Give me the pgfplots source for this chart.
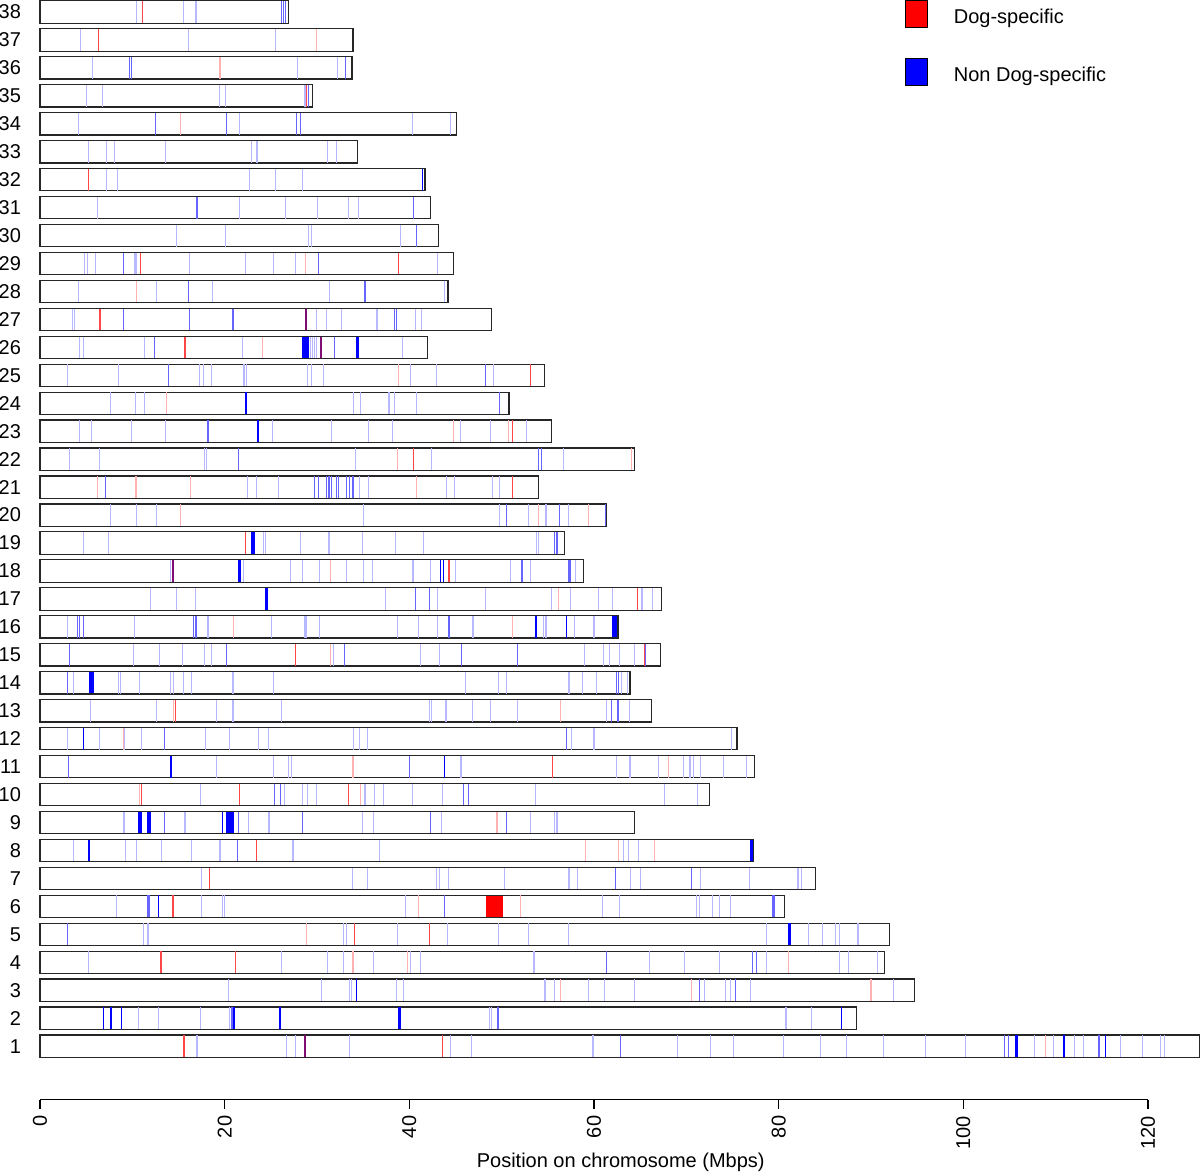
\documentclass[border=0pt]{standalone}
\usepackage{fontspec}
\setmainfont{Liberation Sans}
\usepackage{pgfplots}
\pgfplotsset{compat=1.18}
\definecolor{pp}{rgb}{0.5,0.05,0.45}
\pgfplotsset{
 seg/.style={only marks, mark=|, mark size=5.45pt},
 fb/.style={seg, color=blue!28, line width=0.55pt, mark options={draw=blue!28, line width=0.55pt}},
 mb/.style={seg, color=blue!60, line width=0.55pt, mark options={draw=blue!60, line width=0.55pt}},
 db/.style={seg, color=blue, line width=0.65pt, mark options={draw=blue, line width=0.65pt}},
 dbt/.style={seg, color=blue, line width=1.25pt, mark options={draw=blue, line width=1.25pt}},
 fr/.style={seg, color=red!30, line width=0.55pt, mark options={draw=red!30, line width=0.55pt}},
 rm/.style={seg, color=red!72, line width=0.55pt, mark options={draw=red!72, line width=0.55pt}},
 ppl/.style={seg, color=pp, line width=0.9pt, mark options={draw=pp, line width=0.9pt}},
 blk/.style={draw=none, fill=blue, mark=none},
}
\begin{document}
\begin{tikzpicture}
\begin{axis}[
 x=4.6165pt, y=13.975pt,
 xmin=0, xmax=125.8, ymin=-0.92, ymax=38.43,
 clip=false,
 axis x line*=bottom, axis y line*=left,
 x axis line style={draw=none}, y axis line style={draw=none},
 xtick={0,20,...,120}, ytick={1,...,38},
 tick align=outside, major tick length=4.5pt,
 xtick style={black, line width=0.6pt}, ytick style={draw=none},
 /pgf/number format/assume math mode=true,
 tick label style={font=\fontsize{10}{12}\selectfont},
 xticklabel style={rotate=90, anchor=east},
 yticklabel style={anchor=east, xshift=-1.5pt},
 xlabel={Position on chromosome (Mbps)},
 xlabel style={font=\fontsize{10}{12}\selectfont, at={(0.5,-0.0572)}, anchor=center},
 legend style={at={(0.7448,1.0)}, anchor=north west, draw=none, fill=none,
   row sep=13.5pt, inner sep=0pt, font=\fontsize{10}{12}\selectfont},
 legend cell align=left,
]
\addlegendimage{legend image code/.code={\draw[black, line width=0.4pt, fill=red] (0pt,-4.9pt) rectangle (11pt,8.6pt); \path[draw=none] (0pt,0pt) -- (22pt,0pt);}}
\addlegendentry{Dog-specific}
\addlegendimage{legend image code/.code={\draw[black, line width=0.4pt, fill=blue] (0pt,-4.9pt) rectangle (11pt,8.6pt); \path[draw=none] (0pt,0pt) -- (22pt,0pt);}}
\addlegendentry{Non Dog-specific}

% faint blue
\addplot[fb] coordinates {
(10.5,38)(15.5,38)(16.9,38)
(4.4,37)(16.1,37)(25.5,37)
(5.7,36)(27.9,36)(32.2,36)
(5.05,35)(6.75,35)(19.4,35)(20.1,35)(28.7,35)
(4.2,34)(21.6,34)(40.3,34)(44.5,34)
(5.3,33)(7.2,33)(8.1,33)(13.6,33)(22.9,33)(23.5,33)(31.1,33)(32.1,33)
(7.2,32)(8.4,32)(22.7,32)(25.5,32)(28.4,32)
(6.2,31)(21.6,31)(26.6,31)(30.1,31)(33.4,31)(34.5,31)
(14.8,30)(20.1,30)(29.1,30)(29.4,30)(39.0,30)
(4.8,29)(5.1,29)(6.0,29)(10.2,29)(10.4,29)(16.2,29)(22.3,29)(25.3,29)(27.7,29)(43.1,29)
(4.2,28)(12.6,28)(18.7,28)(31.4,28)(43.8,28)
(3.5,27)(3.7,27)(29.9,27)(31.0,27)(32.7,27)(36.5,27)(40.7,27)(41.3,27)
(4.3,26)(4.7,26)(11.3,26)(21.9,26)(29.3,26)(29.5,26)(29.7,26)(29.9,26)(39.3,26)
(3.0,25)(8.5,25)(17.3,25)(17.7,25)(18.6,25)(22.1,25)(22.4,25)(29.0,25)(29.4,25)(30.7,25)(40.1,25)(42.9,25)(49.1,25)
(7.6,24)(10.3,24)(11.3,24)(34.0,24)(34.7,24)(37.8,24)(38.4,24)(40.8,24)
(4.3,23)(5.6,23)(9.9,23)(13.6,23)(25.2,23)(31.6,23)(35.6,23)(38.2,23)(45.5,23)(48.8,23)(52.7,23)
(3.2,22)(6.4,22)(17.8,22)(18.0,22)(34.2,22)(42.4,22)(56.7,22)
(22.5,21)(23.4,21)(25.8,21)(34.6,21)(35.6,21)(44.0,21)(44.9,21)(49.0,21)(49.8,21)
(7.6,20)(10.5,20)(12.6,20)(35.0,20)(49.8,20)(52.9,20)(54.8,20)(57.2,20)
(4.7,19)(7.4,19)(24.2,19)(24.4,19)(28.2,19)(31.3,19)(34.9,19)(38.5,19)(41.5,19)(53.8,19)(54.0,19)
(14.1,18)(22.0,18)(27.1,18)(28.4,18)(30.3,18)(33.2,18)(35.0,18)(36.0,18)(40.4,18)(42.3,18)(45.0,18)(51.0,18)(53.1,18)(58.0,18)
(12.0,17)(14.8,17)(16.8,17)(37.4,17)(43.1,17)(48.3,17)(55.4,17)(57.5,17)(60.5,17)(62.0,17)(65.2,17)(66.3,17)
(3.0,16)(10.2,16)(18.2,16)(25.1,16)(28.7,16)(28.9,16)(30.3,16)(38.7,16)(41.0,16)(43.1,16)(46.9,16)(54.5,16)(54.8,16)(57.9,16)(60.0,16)
(10.1,15)(12.9,15)(15.4,15)(17.8,15)(18.6,15)(31.8,15)(41.2,15)(43.3,15)(59.0,15)(61.0,15)(61.7,15)(62.8,15)(64.4,15)
(3.6,14)(8.5,14)(8.7,14)(10.8,14)(14.1,14)(14.5,14)(15.5,14)(16.4,14)(20.9,14)(25.3,14)(46.1,14)(49.7,14)(50.5,14)(57.3,14)(58.8,14)(60.3,14)(63.0,14)(63.6,14)
(5.5,13)(12.6,13)(19.1,13)(20.9,13)(26.2,13)(42.2,13)(42.4,13)(43.9,13)(44.0,13)(46.8,13)(48.8,13)(51.7,13)(61.4,13)(63.8,13)
(3.0,12)(6.4,12)(9.2,12)(11.0,12)(17.9,12)(20.5,12)(23.7,12)(24.7,12)(34.0,12)(34.6,12)(35.5,12)(57.6,12)(60.0,12)(74.9,12)
(19.1,11)(25.3,11)(26.9,11)(27.2,11)(45.6,11)(62.4,11)(63.9,11)(67.0,11)(69.7,11)(70.4,11)(70.8,11)(71.5,11)(74.0,11)(76.5,11)
(17.4,10)(26.5,10)(28.4,10)(29.0,10)(29.9,10)(35.2,10)(36.2,10)(37.2,10)(40.3,10)(43.6,10)(53.7,10)(67.6,10)(71.2,10)
(9.1,9)(15.7,9)(22.6,9)(24.8,9)(34.9,9)(36.1,9)(43.5,9)(53.1,9)(55.7,9)(56.0,9)
(3.6,8)(9.3,8)(10.5,8)(13.2,8)(16.4,8)(19.5,8)(27.4,8)(36.8,8)(63.2,8)(63.7,8)(64.8,8)
(17.5,7)(33.8,7)(35.5,7)(42.9,7)(43.3,7)(44.2,7)(50.3,7)(57.3,7)(58.2,7)(64.0,7)(65.0,7)(71.5,7)(76.8,7)(82.1,7)(82.5,7)
(8.3,6)(17.5,6)(19.8,6)(20.0,6)(39.6,6)(60.9,6)(62.8,6)(71.1,6)(71.4,6)(72.8,6)(73.6,6)(74.8,6)
(11.2,5)(11.7,5)(32.9,5)(33.2,5)(38.7,5)(44.1,5)(49.7,5)(52.9,5)(57.2,5)(78.7,5)(83.2,5)(84.8,5)(86.2,5)(86.6,5)(88.6,5)
(5.3,4)(26.2,4)(31.1,4)(32.9,4)(36.1,4)(40.1,4)(41.2,4)(53.5,4)(66.0,4)(69.8,4)(73.6,4)(78.7,4)(86.6,4)(87.6,4)(90.7,4)
(20.4,3)(30.5,3)(33.5,3)(33.7,3)(38.6,3)(39.4,3)(54.7,3)(55.7,3)(59.4,3)(61.1,3)(64.4,3)(72.0,3)(74.2,3)(74.8,3)(77.0,3)(92.4,3)
(10.7,2)(12.85,2)(17.4,2)(20.5,2)(48.7,2)(48.9,2)(80.8,2)(83.6,2)
(17.0,1)(26.7,1)(27.7,1)(33.5,1)(44.5,1)(46.7,1)(59.9,1)(69.0,1)(72.6,1)(75.1,1)(80.5,1)(84.5,1)(87.4,1)(91.4,1)(95.9,1)(100.2,1)(107.7,1)(109.8,1)(112.0,1)(113.0,1)(117.0,1)(119.4,1)(121.4,1)(121.8,1)
};
% medium blue
\addplot[mb] coordinates {
(26.2,38)(26.4,38)(26.6,38)
(9.7,36)(9.9,36)(33.1,36)
(29.1,35)
(12.5,34)(20.2,34)(27.8,34)(28.2,34)
(17.0,31)(40.5,31)
(40.8,30)
(9.0,29)(30.2,29)
(16.1,28)(35.2,28)
(9.0,27)(16.2,27)(20.9,27)(38.4,27)(38.6,27)
(12.4,26)(31.9,26)
(13.9,25)(48.3,25)(53.1,25)
(49.8,24)
(18.2,23)
(21.5,22)(54.0,22)(54.3,22)
(7.1,21)(29.7,21)(30.2,21)(31.0,21)(31.3,21)(31.6,21)(32.1,21)(32.3,21)(33.2,21)(33.5,21)(33.9,21)
(50.5,20)(56.3,20)(61.2,20)
(55.7,19)(56.0,19)
(52.2,18)(57.3,18)(57.5,18)
(40.7,17)(42.2,17)
(4.1,16)(4.3,16)(4.7,16)(16.6,16)(16.9,16)(44.2,16)(44.4,16)
(3.2,15)(20.2,15)(33.0,15)(45.7,15)(51.7,15)(65.6,15)
(3.0,14)(62.4,14)(62.7,14)
(61.9,13)(62.5,13)(62.6,13)
(13.5,12)(57.0,12)
(3.1,11)(40.0,11)
(25.4,10)(26.0,10)(45.9,10)(46.4,10)
(13.5,9)(21.5,9)(28.4,9)(42.3,9)(50.5,9)
(21.4,8)
(62.3,7)(70.6,7)
(11.7,6)(11.9,6)(43.8,6)(79.3,6)(79.5,6)
(3.0,5)
(61.4,4)(77.2,4)(77.6,4)
(71.4,3)(75.3,3)
(20.8,2)(49.6,2)
(62.9,1)(104.5,1)(104.9,1)(114.7,1)
};
% dark blue
\addplot[db] coordinates {
(41.45,32)(43.4,18)(43.7,18)(57.0,16)(4.7,12)(14.2,11)(43.8,11)(19.8,9)(5.3,8)(12.8,6)(34.3,3)
(6.9,2)(8.8,2)(21.0,2)(26.0,2)(38.8,2)(39.0,2)(86.8,2)
(105.7,1)(105.9,1)(110.9,1)(115.4,1)
};
\addplot[dbt] coordinates {
(22.3,24)(23.6,23)(21.6,18)(24.55,17)(53.7,16)(81.2,5)(7.7,2)
};
% faint red
\addplot[fr] coordinates {
(29.9,37)(19.5,36)(15.2,34)(28.8,29)(10.5,28)(24.1,26)(38.8,25)(13.7,24)(44.8,23)(50.7,23)
(38.7,22)(64.1,22)(6.2,21)(10.4,21)(16.3,21)(40.8,21)(15.2,20)(54.0,20)(59.4,20)(31.5,18)
(56.2,17)(21.0,16)(51.2,16)(31.5,15)(14.5,13)(56.4,13)(9.0,12)(33.9,11)(68.1,11)(10.8,10)(34.7,10)
(49.5,9)(59.1,8)(62.7,8)(66.6,8)(41.0,6)(52.0,6)(28.9,5)(33.9,4)(39.8,4)(81.1,4)
(56.4,3)(70.6,3)(90.0,3)(108.9,1)
};
% red
\addplot[rm] coordinates {
(11.1,38)(6.3,37)(28.9,35)(5.3,32)(10.9,29)(38.8,29)(6.5,27)(15.7,26)(53.1,25)(51.2,23)(40.5,22)
(51.2,21)(22.3,19)(44.3,18)(64.7,17)(27.7,15)(65.5,15)(14.7,13)(55.5,11)(11.0,10)(21.6,10)(33.4,10)
(23.4,8)(18.4,7)(14.4,6)(34.1,5)(42.2,5)(13.1,4)(21.2,4)(15.6,1)(43.6,1)
};
% purple (overlap)
\addplot[ppl] coordinates {(28.8,27)(30.45,26)(14.4,18)(28.7,1)};
% blocks
\addplot[blk] coordinates {(28.4,25.61)(29.1,25.61)(29.1,26.39)(28.4,26.39)};
\addplot[blk] coordinates {(34.2,25.61)(34.6,25.61)(34.6,26.39)(34.2,26.39)};
\addplot[blk] coordinates {(22.9,18.61)(23.3,18.61)(23.3,19.39)(22.9,19.39)};
\addplot[blk] coordinates {(62.0,15.61)(62.6,15.61)(62.6,16.39)(62.0,16.39)};
\addplot[blk] coordinates {(5.3,13.61)(5.8,13.61)(5.8,14.39)(5.3,14.39)};
\addplot[blk] coordinates {(10.65,8.61)(11.0,8.61)(11.0,9.39)(10.65,9.39)};
\addplot[blk] coordinates {(11.6,8.61)(12.0,8.61)(12.0,9.39)(11.6,9.39)};
\addplot[blk] coordinates {(20.1,8.61)(21.0,8.61)(21.0,9.39)(20.1,9.39)};
\addplot[blk] coordinates {(76.9,7.61)(77.3,7.61)(77.3,8.39)(76.9,8.39)};
\addplot[blk, fill=red] coordinates {(48.3,5.61)(50.1,5.61)(50.1,6.39)(48.3,6.39)};
% chromosome outlines
\addplot[xbar, mark=none, bar width=0.8, bar shift=0pt, fill=none, draw=black!85, line width=0.6pt] coordinates {
(125.6,1)(88.4,2)(94.7,3)(91.5,4)(92.0,5)(80.6,6)(84.0,7)(77.3,8)(64.4,9)(72.5,10)
(77.4,11)(75.5,12)(66.2,13)(63.9,14)(67.2,15)(62.6,16)(67.3,17)(58.9,18)(56.8,19)(61.3,20)
(54.0,21)(64.4,22)(55.4,23)(50.8,24)(54.6,25)(42.0,26)(48.9,27)(44.2,28)(44.8,29)(43.2,30)
(42.3,31)(41.7,32)(34.4,33)(45.1,34)(29.5,35)(33.8,36)(33.9,37)(26.9,38)
};
\draw[line width=0.6pt] (axis cs:0,-0.92) -- (axis cs:120,-0.92);
\coordinate (bl) at (axis cs:-4.333,-3.544);
\coordinate (tr) at (axis cs:125.64,38.43);
\end{axis}
\pgfresetboundingbox
\path[use as bounding box] (bl) rectangle (tr);
\end{tikzpicture}
\end{document}
